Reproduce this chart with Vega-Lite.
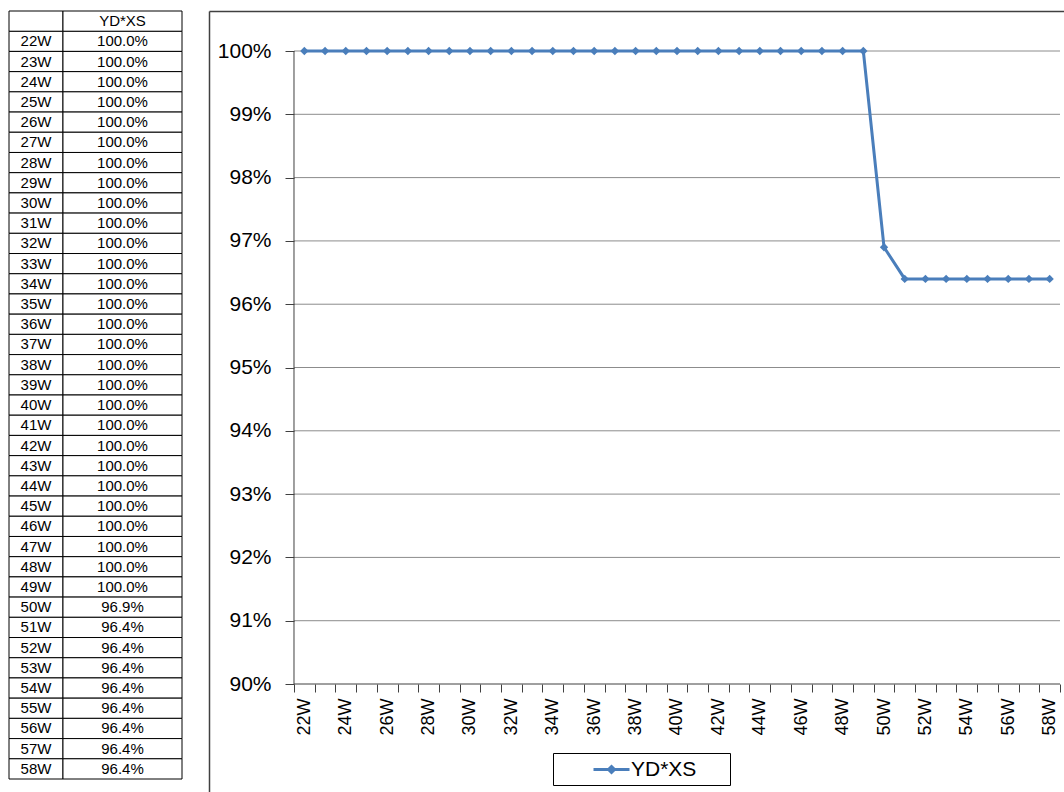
{
  "$schema": "https://vega.github.io/schema/vega-lite/v6.json",
  "background": "white",
  "padding": {"left": 8, "top": 10, "right": 0, "bottom": 0},
  "spacing": 26,
  "config": {"view": {"stroke": null}, "font": "Liberation Sans"},
  "data": {
    "values": [
      {"week": "22W", "n": 22, "rate": 1.0},
      {"week": "23W", "n": 23, "rate": 1.0},
      {"week": "24W", "n": 24, "rate": 1.0},
      {"week": "25W", "n": 25, "rate": 1.0},
      {"week": "26W", "n": 26, "rate": 1.0},
      {"week": "27W", "n": 27, "rate": 1.0},
      {"week": "28W", "n": 28, "rate": 1.0},
      {"week": "29W", "n": 29, "rate": 1.0},
      {"week": "30W", "n": 30, "rate": 1.0},
      {"week": "31W", "n": 31, "rate": 1.0},
      {"week": "32W", "n": 32, "rate": 1.0},
      {"week": "33W", "n": 33, "rate": 1.0},
      {"week": "34W", "n": 34, "rate": 1.0},
      {"week": "35W", "n": 35, "rate": 1.0},
      {"week": "36W", "n": 36, "rate": 1.0},
      {"week": "37W", "n": 37, "rate": 1.0},
      {"week": "38W", "n": 38, "rate": 1.0},
      {"week": "39W", "n": 39, "rate": 1.0},
      {"week": "40W", "n": 40, "rate": 1.0},
      {"week": "41W", "n": 41, "rate": 1.0},
      {"week": "42W", "n": 42, "rate": 1.0},
      {"week": "43W", "n": 43, "rate": 1.0},
      {"week": "44W", "n": 44, "rate": 1.0},
      {"week": "45W", "n": 45, "rate": 1.0},
      {"week": "46W", "n": 46, "rate": 1.0},
      {"week": "47W", "n": 47, "rate": 1.0},
      {"week": "48W", "n": 48, "rate": 1.0},
      {"week": "49W", "n": 49, "rate": 1.0},
      {"week": "50W", "n": 50, "rate": 0.969},
      {"week": "51W", "n": 51, "rate": 0.964},
      {"week": "52W", "n": 52, "rate": 0.964},
      {"week": "53W", "n": 53, "rate": 0.964},
      {"week": "54W", "n": 54, "rate": 0.964},
      {"week": "55W", "n": 55, "rate": 0.964},
      {"week": "56W", "n": 56, "rate": 0.964},
      {"week": "57W", "n": 57, "rate": 0.964},
      {"week": "58W", "n": 58, "rate": 0.964}
    ]
  },
  "hconcat": [
    {
      "width": 173,
      "height": 768,
      "layer": [
        {
          "mark": {"type": "rect", "fill": "white", "stroke": "black", "strokeWidth": 1},
          "encoding": {
            "y": {"field": "week", "type": "nominal", "axis": null,
                  "scale": {"domain": ["hdr","22W","23W","24W","25W","26W","27W","28W","29W","30W","31W","32W","33W","34W","35W","36W","37W","38W","39W","40W","41W","42W","43W","44W","45W","46W","47W","48W","49W","50W","51W","52W","53W","54W","55W","56W","57W","58W"], "paddingInner": 0, "paddingOuter": 0}},
            "x": {"datum": 0, "type": "quantitative", "axis": null, "scale": {"domain": [0, 1], "nice": false, "zero": false}},
            "x2": {"datum": 0.312}
          }
        },
        {
          "mark": {"type": "rect", "fill": "white", "stroke": "black", "strokeWidth": 1},
          "encoding": {
            "y": {"field": "week", "type": "nominal", "axis": null},
            "x": {"datum": 0.312, "type": "quantitative", "axis": null},
            "x2": {"datum": 1}
          }
        },
        {
          "mark": {"type": "text", "fontSize": 15, "color": "black", "font": "Liberation Sans"},
          "encoding": {
            "y": {"field": "week", "type": "nominal", "axis": null},
            "x": {"datum": 0.156, "type": "quantitative", "axis": null},
            "text": {"field": "week"}
          }
        },
        {
          "mark": {"type": "text", "fontSize": 15, "color": "black", "font": "Liberation Sans"},
          "encoding": {
            "y": {"field": "week", "type": "nominal", "axis": null},
            "x": {"datum": 0.656, "type": "quantitative", "axis": null},
            "text": {"field": "rate", "type": "quantitative", "format": ".1%"}
          }
        },
        {
          "data": {"values": [{"week": "hdr", "label": "YD*XS"}]},
          "layer": [
            {
              "mark": {"type": "rect", "fill": "white", "stroke": "black", "strokeWidth": 1},
              "encoding": {
                "y": {"field": "week", "type": "nominal", "axis": null},
                "x": {"datum": 0, "type": "quantitative", "axis": null},
                "x2": {"datum": 0.312}
              }
            },
            {
              "mark": {"type": "rect", "fill": "white", "stroke": "black", "strokeWidth": 1},
              "encoding": {
                "y": {"field": "week", "type": "nominal", "axis": null},
                "x": {"datum": 0.312, "type": "quantitative", "axis": null},
                "x2": {"datum": 1}
              }
            },
            {
              "mark": {"type": "text", "fontSize": 15, "color": "black", "font": "Liberation Sans"},
              "encoding": {
                "y": {"field": "week", "type": "nominal", "axis": null},
                "x": {"datum": 0.656, "type": "quantitative", "axis": null},
                "text": {"field": "label"}
              }
            }
          ]
        }
      ]
    },
    {
      "width": 856,
      "height": 781,
      "resolve": {"axis": {"x": "independent", "y": "independent"}},
      "layer": [
        {
          "data": {"values": [{"g": 0.91}, {"g": 0.92}, {"g": 0.93}, {"g": 0.94}, {"g": 0.95}, {"g": 0.96}, {"g": 0.97}, {"g": 0.98}, {"g": 0.99}, {"g": 1.0}]},
          "mark": {"type": "rule", "color": "#8c8c8c", "strokeWidth": 1},
          "encoding": {
            "x": {"datum": 21.5, "type": "quantitative", "axis": null, "scale": {"domain": [17.3943, 58.7415], "nice": false, "zero": false}},
            "x2": {"datum": 58.5},
            "y": {"field": "g", "type": "quantitative", "axis": null, "scale": {"domain": [0.88294, 1.00632], "nice": false, "zero": false}}
          }
        },
        {
          "data": {"values": [{"k": 1}]},
          "mark": {"type": "rule", "color": "#404040", "strokeWidth": 1},
          "encoding": {
            "x": {"datum": 21.5, "type": "quantitative", "axis": null},
            "x2": {"datum": 58.5},
            "y": {"datum": 0.9, "type": "quantitative", "axis": null}
          }
        },
        {
          "data": {"values": [{"k": 1}]},
          "mark": {"type": "rule", "color": "#404040", "strokeWidth": 1},
          "encoding": {
            "x": {"datum": 21.5, "type": "quantitative", "axis": null},
            "y": {"datum": 0.9, "type": "quantitative", "axis": null},
            "y2": {"datum": 1.0}
          }
        },
        {
          "mark": {"type": "line", "strokeWidth": 3},
          "encoding": {
            "x": {
              "field": "n", "type": "quantitative",
              "scale": {"domain": [17.3943, 58.7415], "nice": false, "zero": false},
              "axis": {
                "orient": "bottom", "offset": -108, "title": null, "domain": false, "grid": false,
                "values": [21.5,22.5,23.5,24.5,25.5,26.5,27.5,28.5,29.5,30.5,31.5,32.5,33.5,34.5,35.5,36.5,37.5,38.5,39.5,40.5,41.5,42.5,43.5,44.5,45.5,46.5,47.5,48.5,49.5,50.5,51.5,52.5,53.5,54.5,55.5,56.5,57.5,58.5],
                "labelExpr": "(datum.value + 0.5) % 2 == 0 ? (datum.value + 0.5) + 'W' : ''",
                "labelOffset": 10.35, "labelAngle": -90, "labelAlign": "right", "labelBaseline": "middle",
                "labelPadding": 6, "labelFontSize": 18, "labelFont": "Liberation Sans", "labelColor": "black",
                "labelFlush": false, "labelOverlap": false, "labelBound": false,
                "tickSize": 8, "tickColor": "#404040", "tickWidth": 1
              }
            },
            "y": {
              "field": "rate", "type": "quantitative",
              "scale": {"domain": [0.88294, 1.00632], "nice": false, "zero": false},
              "axis": {
                "orient": "left", "offset": -85, "title": null, "domain": false, "grid": false,
                "values": [0.9, 0.91, 0.92, 0.93, 0.94, 0.95, 0.96, 0.97, 0.98, 0.99, 1.0],
                "format": ".0%", "labelFontSize": 21, "labelFont": "Liberation Sans", "labelColor": "black",
                "labelPadding": 14, "labelFlush": false, "labelOverlap": false,
                "tickSize": 9, "tickColor": "#404040", "tickWidth": 1
              }
            },
            "color": {
              "datum": "YD*XS",
              "scale": {"range": ["#4A7EBB"]},
              "legend": {
                "orient": "none", "legendX": 544, "legendY": 742, "title": null,
                "strokeColor": "black", "fillColor": "white", "padding": 5,
                "symbolType": "M-1.8,0H1.8M0,-0.3L0.3,0L0,0.3L-0.3,0ZM10.7,0h0.001",
                "symbolSize": 400, "symbolStrokeWidth": 3,
                "symbolStrokeColor": "#4A7EBB", "symbolFillColor": "#4A7EBB",
                "symbolOffset": 42, "labelOffset": 8,
                "labelFontSize": 21, "labelFont": "Liberation Sans", "labelColor": "black",
                "encode": {
                  "symbols": {"update": {"fill": {"value": "#4A7EBB"}, "stroke": {"value": "#4A7EBB"}, "strokeWidth": {"value": 3}, "strokeCap": {"value": "butt"}, "shape": {"value": "M-1.8,0H1.8M0,-0.3L0.3,0L0,0.3L-0.3,0ZM10.7,0h0.001"}}}
                }
              }
            }
          }
        },
        {
          "mark": {"type": "point", "shape": "diamond", "filled": true, "size": 70, "color": "#4A7EBB", "opacity": 1},
          "encoding": {
            "x": {
              "field": "n", "type": "quantitative",
              "axis": {"orient": "top", "offset": 0, "title": null, "domain": true, "domainColor": "#404040", "domainWidth": 1.5, "ticks": false, "labels": false, "grid": false}
            },
            "y": {
              "field": "rate", "type": "quantitative",
              "axis": {"orient": "left", "offset": 0, "title": null, "domain": true, "domainColor": "#404040", "domainWidth": 1.5, "ticks": false, "labels": false, "grid": false}
            }
          }
        }
      ]
    }
  ]
}
